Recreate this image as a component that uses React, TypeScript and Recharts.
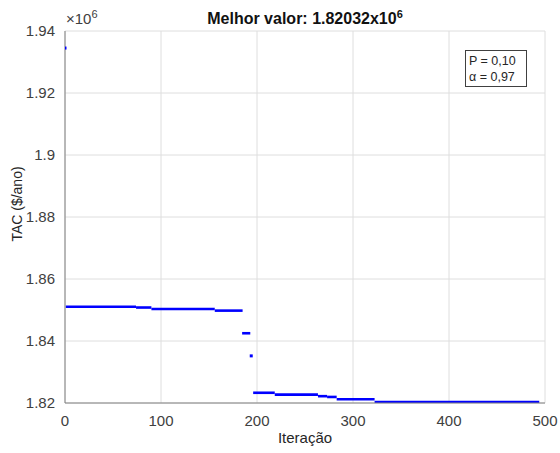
import { ComposedChart, Line, Scatter, XAxis, YAxis, CartesianGrid } from "recharts";

// best value per iteration, read as flat runs (x10^6 $/ano)
const runStart = [0.8, 74, 90, 156, 184.5, 196, 218.5, 263.5, 273, 283, 322.5];
const runEnd = [74, 90, 156, 185, 193, 218.5, 263.5, 273, 283, 322.5, 494];
const runValue = [1.85106, 1.8508, 1.85032, 1.8498, 1.8425, 1.8233, 1.8227, 1.8222, 1.82195, 1.8212, 1.82032];

// isolated samples
const dotIter = [0, 194];
const dotValue = [1.9345, 1.8352];

const xTicks = [0, 100, 200, 300, 400, 500];
const yTicks = [1.82, 1.84, 1.86, 1.88, 1.9, 1.92, 1.94];

const runs = runStart.map((s, i) => [
  { x: s, y: runValue[i] },
  { x: runEnd[i], y: runValue[i] },
]);
const dots = dotIter.map((x, i) => ({ x, y: dotValue[i] }));

const font = "Liberation Sans, Arial, sans-serif";
const tickStyle = { fill: "#404040", fontSize: 15, fontFamily: font };

function DotShape(props: any) {
  const { cx, cy } = props;
  return <rect x={cx - 1.5} y={cy - 1.5} width={3} height={3} fill="#0000ff" />;
}

export default function App() {
  return (
    <div style={{ position: "absolute", left: 0, top: 0, width: 560, height: 453, background: "#fff", fontFamily: font }}>
      <ComposedChart width={560} height={453} margin={{ top: 31, right: 15, bottom: 20, left: 10 }}>
        <CartesianGrid stroke="#dedede" strokeWidth={1} />
        <XAxis
          type="number"
          dataKey="x"
          domain={[0, 500]}
          ticks={xTicks}
          allowDataOverflow
          tick={tickStyle}
          tickLine={false}
          axisLine={{ stroke: "#808080" }}
          tickMargin={6}
          height={30}
        />
        <YAxis
          type="number"
          dataKey="y"
          domain={[1.82, 1.94]}
          ticks={yTicks}
          allowDataOverflow
          tick={tickStyle}
          tickLine={false}
          axisLine={{ stroke: "#808080" }}
          tickMargin={4}
          width={55}
          tickFormatter={(v: number) => String(Number(v.toFixed(2)))}
        />
        {runs.map((d, i) => (
          <Line
            key={i}
            data={d}
            dataKey="y"
            stroke="#0000ff"
            strokeWidth={2.6}
            dot={false}
            activeDot={false}
            isAnimationActive={false}
          />
        ))}
        <Scatter data={dots} dataKey="y" shape={DotShape} isAnimationActive={false} />
      </ComposedChart>

      <div style={{ position: "absolute", left: 0, top: 8, width: 610, textAlign: "center", fontWeight: "bold", fontSize: 16, color: "#111" }}>
        Melhor valor: 1.82032x10<sup style={{ fontSize: 11 }}>6</sup>
      </div>
      <div style={{ position: "absolute", left: 66, top: 8, fontSize: 15, color: "#404040" }}>
        ×10<sup style={{ fontSize: 11 }}>6</sup>
      </div>
      <div
        style={{
          position: "absolute",
          left: 17,
          top: 204,
          transform: "translate(-50%, -50%) rotate(-90deg)",
          whiteSpace: "nowrap",
          fontSize: 14,
          color: "#262626",
        }}
      >
        TAC ($/ano)
      </div>
      <div style={{ position: "absolute", left: 0, top: 429, width: 610, textAlign: "center", fontSize: 15, color: "#262626" }}>
        Iteração
      </div>
      <div
        style={{
          position: "absolute",
          left: 465,
          top: 50,
          width: 62,
          height: 37,
          border: "1px solid #404040",
          background: "#fff",
          fontSize: 12.5,
          lineHeight: "16px",
          color: "#262626",
          paddingLeft: 3,
          paddingTop: 2,
          boxSizing: "border-box",
        }}
      >
        <div>P = 0,10</div>
        <div>α = 0,97</div>
      </div>
    </div>
  );
}
